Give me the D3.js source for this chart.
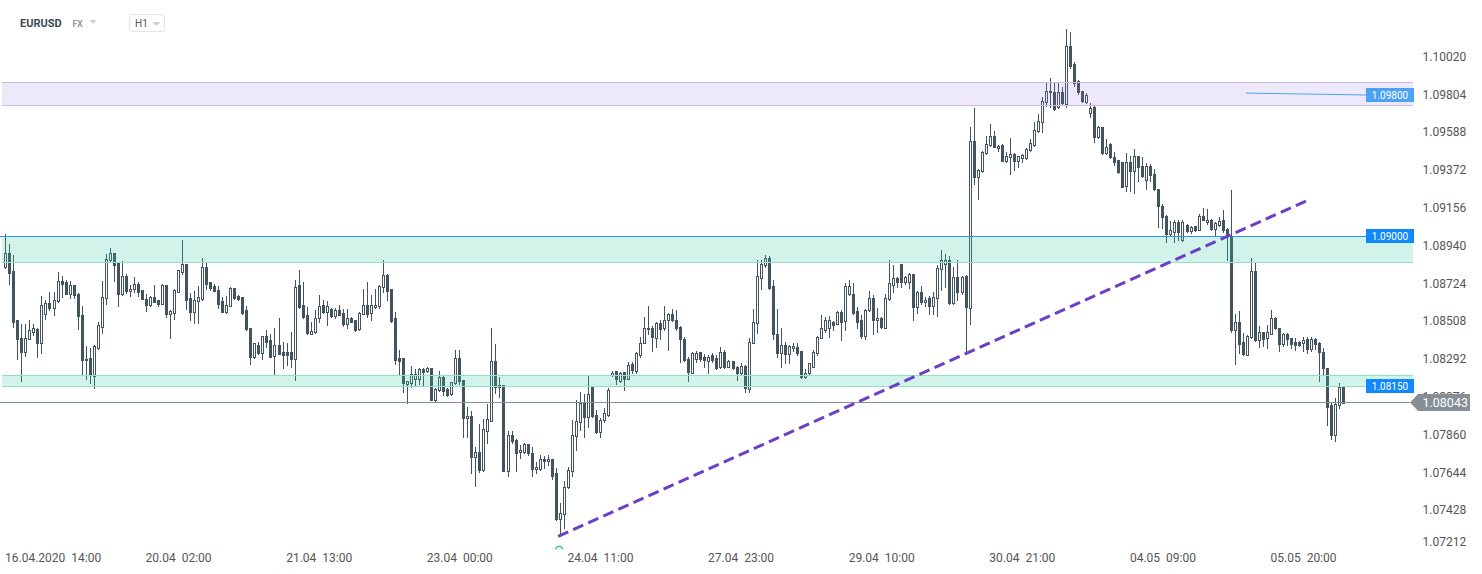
<!DOCTYPE html>
<html>
<head>
<meta charset="utf-8">
<script src="https://cdn.jsdelivr.net/npm/d3@7/dist/d3.min.js"></script>
<style>
body { margin: 0; background: #fff; overflow: hidden; }
svg { display: block; font-family: Roboto, "Noto Sans", sans-serif; }
</style>
</head>
<body>
<div id="chart"></div>
<script>
const WIDTH = 1482, HEIGHT = 574
const PLOT_LEFT = 2, PLOT_RIGHT = 1413, PLOT_BOTTOM = 548
const CANDLE_COLOR = "#44545e"

// hourly EURUSD candles, 16.04 06:00 -> 06.05 07:00
const open = [
  1.08817, 1.08899, 1.08792, 1.08513, 1.08414, 1.08332, 1.08408, 1.08446, 1.08462, 1.08384,
  1.08551, 1.08614, 1.08585, 1.08621, 1.08735, 1.08732, 1.08663, 1.08712, 1.08661, 1.08545,
  1.08283, 1.08298, 1.08194, 1.08355, 1.08475, 1.08642, 1.08859, 1.08899, 1.08842, 1.08663,
  1.08764, 1.08680, 1.08692, 1.08722, 1.08684, 1.08637, 1.08602, 1.08646, 1.08627, 1.08608,
  1.08712, 1.08551, 1.08557, 1.08674, 1.08789, 1.08832, 1.08642, 1.08561, 1.08625, 1.08637,
  1.08815, 1.08730, 1.08711, 1.08688, 1.08621, 1.08561, 1.08597, 1.08695, 1.08650, 1.08644,
  1.08570, 1.08467, 1.08304, 1.08374, 1.08323, 1.08422, 1.08399, 1.08308, 1.08374, 1.08331,
  1.08331, 1.08331, 1.08289, 1.08712, 1.08599, 1.08541, 1.08437, 1.08443, 1.08523, 1.08599,
  1.08561, 1.08576, 1.08540, 1.08570, 1.08557, 1.08494, 1.08528, 1.08513, 1.08460, 1.08551,
  1.08599, 1.08555, 1.08589, 1.08593, 1.08703, 1.08770, 1.08690, 1.08523, 1.08296, 1.08296,
  1.08148, 1.08156, 1.08175, 1.08175, 1.08234, 1.08224, 1.08239, 1.08057, 1.08114, 1.08188,
  1.08118, 1.08089, 1.08152, 1.08298, 1.08171, 1.07953, 1.07966, 1.07734, 1.07759, 1.07658,
  1.07882, 1.07939, 1.08279, 1.08143, 1.08143, 1.07649, 1.07858, 1.07829, 1.07759, 1.07759,
  1.07806, 1.07757, 1.07662, 1.07664, 1.07719, 1.07709, 1.07719, 1.07639, 1.07379, 1.07407,
  1.07559, 1.07649, 1.07852, 1.07934, 1.08038, 1.07962, 1.08139, 1.07972, 1.07877, 1.07941,
  1.07972, 1.08201, 1.08222, 1.08167, 1.08215, 1.08177, 1.08260, 1.08224, 1.08314, 1.08384,
  1.08471, 1.08466, 1.08414, 1.08500, 1.08466, 1.08513, 1.08551, 1.08517, 1.08475, 1.08408,
  1.08289, 1.08213, 1.08289, 1.08329, 1.08300, 1.08281, 1.08315, 1.08298, 1.08247, 1.08331,
  1.08247, 1.08279, 1.08247, 1.08209, 1.08253, 1.08118, 1.08384, 1.08498, 1.08756, 1.08827,
  1.08868, 1.08707, 1.08437, 1.08323, 1.08371, 1.08319, 1.08352, 1.08361, 1.08336, 1.08190,
  1.08209, 1.08247, 1.08323, 1.08414, 1.08456, 1.08471, 1.08504, 1.08494, 1.08559, 1.08509,
  1.08661, 1.08665, 1.08566, 1.08517, 1.08422, 1.08570, 1.08642, 1.08517, 1.08528, 1.08471,
  1.08635, 1.08712, 1.08756, 1.08832, 1.08731, 1.08731, 1.08775, 1.08589, 1.08674, 1.08618,
  1.08640, 1.08593, 1.08642, 1.08808, 1.08836, 1.08859, 1.08612, 1.08760, 1.08674, 1.08766,
  1.08585, 1.09539, 1.09330, 1.09364, 1.09467, 1.09516, 1.09568, 1.09497, 1.09516, 1.09425,
  1.09448, 1.09463, 1.09421, 1.09440, 1.09440, 1.09486, 1.09516, 1.09596, 1.09644, 1.09758,
  1.09815, 1.09818, 1.09733, 1.09815, 1.09748, 1.10081, 1.09976, 1.09881, 1.09824, 1.09758,
  1.09695, 1.09733, 1.09558, 1.09615, 1.09467, 1.09520, 1.09448, 1.09429, 1.09416, 1.09281,
  1.09419, 1.09368, 1.09454, 1.09397, 1.09315, 1.09397, 1.09349, 1.09264, 1.09163, 1.09108,
  1.09003, 1.09015, 1.09075, 1.08969, 1.09056, 1.09022, 1.09049, 1.09030, 1.09108, 1.09074,
  1.09083, 1.09036, 1.09060, 1.09083, 1.09037, 1.08992, 1.08456, 1.08504, 1.08390, 1.08317,
  1.08418, 1.08792, 1.08399, 1.08447, 1.08409, 1.08437, 1.08523, 1.08466, 1.08376, 1.08437,
  1.08409, 1.08390, 1.08390, 1.08384, 1.08403, 1.08346, 1.08403, 1.08384, 1.08333, 1.08241,
  1.08028, 1.07858, 1.08028, 1.08133
]
const high = [
  1.09007, 1.08946, 1.08883, 1.08513, 1.08494, 1.08490, 1.08513, 1.08494, 1.08471, 1.08650,
  1.08627, 1.08674, 1.08674, 1.08787, 1.08764, 1.08741, 1.08735, 1.08716, 1.08669, 1.08593,
  1.08365, 1.08355, 1.08369, 1.08502, 1.08735, 1.08893, 1.08927, 1.08899, 1.08846, 1.08849,
  1.08775, 1.08712, 1.08760, 1.08732, 1.08684, 1.08661, 1.08650, 1.08712, 1.08627, 1.08722,
  1.08712, 1.08570, 1.08692, 1.08802, 1.08969, 1.08836, 1.08671, 1.08680, 1.08707, 1.08870,
  1.08840, 1.08732, 1.08722, 1.08707, 1.08646, 1.08650, 1.08701, 1.08695, 1.08656, 1.08646,
  1.08593, 1.08471, 1.08384, 1.08388, 1.08422, 1.08456, 1.08437, 1.08467, 1.08528, 1.08388,
  1.08380, 1.08445, 1.08745, 1.08802, 1.08732, 1.08589, 1.08504, 1.08570, 1.08656, 1.08627,
  1.08625, 1.08585, 1.08583, 1.08599, 1.08580, 1.08580, 1.08532, 1.08513, 1.08561, 1.08693,
  1.08732, 1.08656, 1.08693, 1.08716, 1.08855, 1.08775, 1.08690, 1.08559, 1.08342, 1.08296,
  1.08165, 1.08253, 1.08236, 1.08239, 1.08238, 1.08247, 1.08239, 1.08124, 1.08220, 1.08198,
  1.08124, 1.08162, 1.08342, 1.08342, 1.08171, 1.08019, 1.07996, 1.07791, 1.07920, 1.07947,
  1.08034, 1.08469, 1.08376, 1.08190, 1.08143, 1.07882, 1.07882, 1.07833, 1.07799, 1.07810,
  1.07806, 1.07791, 1.07700, 1.07742, 1.07738, 1.07742, 1.07721, 1.07668, 1.07468, 1.07592,
  1.07677, 1.07943, 1.08057, 1.08105, 1.08091, 1.08200, 1.08139, 1.08000, 1.07953, 1.08010,
  1.08124, 1.08224, 1.08222, 1.08219, 1.08219, 1.08276, 1.08276, 1.08331, 1.08418, 1.08532,
  1.08593, 1.08479, 1.08504, 1.08517, 1.08593, 1.08555, 1.08580, 1.08574, 1.08479, 1.08418,
  1.08300, 1.08329, 1.08336, 1.08331, 1.08319, 1.08314, 1.08323, 1.08314, 1.08361, 1.08342,
  1.08285, 1.08281, 1.08253, 1.08270, 1.08257, 1.08414, 1.08578, 1.08855, 1.08855, 1.08883,
  1.08878, 1.08745, 1.08580, 1.08466, 1.08390, 1.08374, 1.08384, 1.08384, 1.08336, 1.08232,
  1.08270, 1.08342, 1.08422, 1.08541, 1.08532, 1.08536, 1.08509, 1.08566, 1.08570, 1.08726,
  1.08741, 1.08726, 1.08589, 1.08541, 1.08580, 1.08680, 1.08656, 1.08585, 1.08532, 1.08665,
  1.08855, 1.08826, 1.08760, 1.08832, 1.08764, 1.08783, 1.08779, 1.08678, 1.08709, 1.08646,
  1.08650, 1.08674, 1.08830, 1.08912, 1.08893, 1.08882, 1.08817, 1.08855, 1.08764, 1.08770,
  1.09619, 1.09725, 1.09378, 1.09482, 1.09568, 1.09634, 1.09596, 1.09516, 1.09520, 1.09473,
  1.09554, 1.09467, 1.09454, 1.09463, 1.09497, 1.09549, 1.09644, 1.09691, 1.09790, 1.09875,
  1.09900, 1.09871, 1.09866, 1.09847, 1.10176, 1.10160, 1.09986, 1.09885, 1.09824, 1.09809,
  1.09752, 1.09739, 1.09623, 1.09619, 1.09549, 1.09524, 1.09473, 1.09429, 1.09416, 1.09467,
  1.09454, 1.09492, 1.09454, 1.09444, 1.09410, 1.09406, 1.09378, 1.09264, 1.09178, 1.09112,
  1.09079, 1.09087, 1.09083, 1.09083, 1.09064, 1.09049, 1.09054, 1.09121, 1.09155, 1.09148,
  1.09091, 1.09074, 1.09102, 1.09144, 1.09041, 1.09258, 1.08551, 1.08566, 1.08441, 1.08428,
  1.08870, 1.08840, 1.08481, 1.08447, 1.08485, 1.08574, 1.08532, 1.08471, 1.08441, 1.08441,
  1.08409, 1.08409, 1.08395, 1.08418, 1.08418, 1.08418, 1.08409, 1.08390, 1.08352, 1.08241,
  1.08038, 1.08067, 1.08152, 1.08137
]
const low = [
  1.08811, 1.08722, 1.08475, 1.08289, 1.08167, 1.08308, 1.08408, 1.08427, 1.08304, 1.08327,
  1.08521, 1.08570, 1.08541, 1.08616, 1.08646, 1.08661, 1.08640, 1.08640, 1.08460, 1.08199,
  1.08175, 1.08156, 1.08123, 1.08350, 1.08441, 1.08608, 1.08846, 1.08737, 1.08595, 1.08659,
  1.08669, 1.08650, 1.08676, 1.08650, 1.08635, 1.08568, 1.08597, 1.08616, 1.08593, 1.08604,
  1.08532, 1.08412, 1.08521, 1.08673, 1.08775, 1.08578, 1.08513, 1.08498, 1.08500, 1.08627,
  1.08690, 1.08688, 1.08680, 1.08583, 1.08559, 1.08555, 1.08593, 1.08635, 1.08627, 1.08551,
  1.08456, 1.08260, 1.08298, 1.08321, 1.08289, 1.08361, 1.08300, 1.08199, 1.08319, 1.08238,
  1.08257, 1.08247, 1.08171, 1.08585, 1.08528, 1.08437, 1.08433, 1.08439, 1.08504, 1.08555,
  1.08485, 1.08532, 1.08528, 1.08541, 1.08481, 1.08469, 1.08502, 1.08450, 1.08456, 1.08547,
  1.08532, 1.08513, 1.08585, 1.08585, 1.08674, 1.08627, 1.08504, 1.08260, 1.08205, 1.08105,
  1.08038, 1.08133, 1.08143, 1.08148, 1.08137, 1.08219, 1.08057, 1.08046, 1.08110, 1.08086,
  1.08082, 1.08086, 1.08148, 1.08148, 1.07848, 1.07848, 1.07639, 1.07563, 1.07645, 1.07654,
  1.07810, 1.07935, 1.08095, 1.08076, 1.07649, 1.07620, 1.07814, 1.07649, 1.07725, 1.07753,
  1.07744, 1.07620, 1.07639, 1.07658, 1.07668, 1.07687, 1.07605, 1.07373, 1.07278, 1.07326,
  1.07554, 1.07624, 1.07772, 1.07886, 1.07848, 1.07905, 1.07962, 1.07867, 1.07848, 1.07934,
  1.07966, 1.08196, 1.08148, 1.08162, 1.08114, 1.08175, 1.08213, 1.08209, 1.08304, 1.08380,
  1.08437, 1.08336, 1.08361, 1.08408, 1.08456, 1.08342, 1.08509, 1.08456, 1.08276, 1.08281,
  1.08167, 1.08209, 1.08276, 1.08281, 1.08247, 1.08213, 1.08276, 1.08234, 1.08239, 1.08238,
  1.08243, 1.08236, 1.08171, 1.08198, 1.08101, 1.08101, 1.08380, 1.08441, 1.08693, 1.08817,
  1.08693, 1.08403, 1.08300, 1.08247, 1.08266, 1.08266, 1.08336, 1.08314, 1.08181, 1.08181,
  1.08205, 1.08243, 1.08317, 1.08409, 1.08447, 1.08418, 1.08456, 1.08490, 1.08399, 1.08456,
  1.08656, 1.08551, 1.08466, 1.08409, 1.08403, 1.08566, 1.08433, 1.08447, 1.08471, 1.08466,
  1.08627, 1.08674, 1.08703, 1.08703, 1.08722, 1.08699, 1.08517, 1.08555, 1.08608, 1.08593,
  1.08551, 1.08547, 1.08536, 1.08688, 1.08703, 1.08604, 1.08608, 1.08627, 1.08665, 1.08333,
  1.08494, 1.09292, 1.09207, 1.09359, 1.09463, 1.09511, 1.09501, 1.09482, 1.09421, 1.09416,
  1.09349, 1.09372, 1.09387, 1.09416, 1.09435, 1.09482, 1.09511, 1.09587, 1.09587, 1.09739,
  1.09729, 1.09714, 1.09725, 1.09748, 1.09729, 1.09957, 1.09853, 1.09805, 1.09758, 1.09752,
  1.09672, 1.09530, 1.09554, 1.09463, 1.09463, 1.09438, 1.09402, 1.09353, 1.09273, 1.09250,
  1.09254, 1.09239, 1.09307, 1.09330, 1.09264, 1.09307, 1.09260, 1.09045, 1.09041, 1.08960,
  1.08996, 1.08960, 1.08969, 1.08965, 1.09017, 1.09011, 1.09022, 1.09026, 1.09083, 1.09064,
  1.09030, 1.08998, 1.09054, 1.09020, 1.08855, 1.08447, 1.08262, 1.08323, 1.08314, 1.08314,
  1.08414, 1.08395, 1.08361, 1.08365, 1.08352, 1.08433, 1.08460, 1.08338, 1.08365, 1.08371,
  1.08357, 1.08342, 1.08365, 1.08338, 1.08327, 1.08336, 1.08346, 1.08167, 1.08200, 1.07915,
  1.07833, 1.07825, 1.08010, 1.08038
]
const close = [
  1.08899, 1.08785, 1.08503, 1.08408, 1.08332, 1.08414, 1.08456, 1.08466, 1.08384, 1.08602,
  1.08614, 1.08583, 1.08631, 1.08735, 1.08720, 1.08663, 1.08712, 1.08659, 1.08538, 1.08283,
  1.08294, 1.08198, 1.08365, 1.08488, 1.08648, 1.08864, 1.08899, 1.08830, 1.08663, 1.08764,
  1.08678, 1.08693, 1.08722, 1.08674, 1.08635, 1.08602, 1.08644, 1.08618, 1.08608, 1.08716,
  1.08547, 1.08564, 1.08684, 1.08798, 1.08832, 1.08627, 1.08561, 1.08631, 1.08648, 1.08815,
  1.08720, 1.08695, 1.08682, 1.08604, 1.08561, 1.08602, 1.08695, 1.08640, 1.08635, 1.08555,
  1.08460, 1.08304, 1.08380, 1.08325, 1.08420, 1.08390, 1.08304, 1.08374, 1.08321, 1.08314,
  1.08314, 1.08289, 1.08705, 1.08589, 1.08532, 1.08441, 1.08450, 1.08528, 1.08597, 1.08561,
  1.08593, 1.08538, 1.08570, 1.08545, 1.08490, 1.08528, 1.08504, 1.08456, 1.08557, 1.08599,
  1.08547, 1.08599, 1.08602, 1.08711, 1.08770, 1.08680, 1.08507, 1.08285, 1.08281, 1.08156,
  1.08165, 1.08205, 1.08205, 1.08234, 1.08219, 1.08239, 1.08057, 1.08118, 1.08188, 1.08110,
  1.08086, 1.08158, 1.08298, 1.08167, 1.07956, 1.07966, 1.07734, 1.07759, 1.07658, 1.07892,
  1.07947, 1.08279, 1.08133, 1.08133, 1.07649, 1.07858, 1.07820, 1.07753, 1.07772, 1.07806,
  1.07753, 1.07662, 1.07675, 1.07719, 1.07709, 1.07719, 1.07624, 1.07377, 1.07411, 1.07559,
  1.07658, 1.07858, 1.07937, 1.08038, 1.07962, 1.08091, 1.07968, 1.07873, 1.07943, 1.07985,
  1.08114, 1.08213, 1.08175, 1.08213, 1.08175, 1.08257, 1.08228, 1.08327, 1.08384, 1.08471,
  1.08460, 1.08418, 1.08498, 1.08462, 1.08517, 1.08551, 1.08513, 1.08471, 1.08403, 1.08285,
  1.08219, 1.08323, 1.08323, 1.08289, 1.08285, 1.08304, 1.08285, 1.08241, 1.08331, 1.08243,
  1.08279, 1.08238, 1.08213, 1.08253, 1.08124, 1.08390, 1.08504, 1.08764, 1.08836, 1.08868,
  1.08697, 1.08437, 1.08323, 1.08371, 1.08319, 1.08367, 1.08365, 1.08323, 1.08190, 1.08213,
  1.08266, 1.08332, 1.08418, 1.08466, 1.08513, 1.08517, 1.08485, 1.08559, 1.08502, 1.08709,
  1.08709, 1.08555, 1.08504, 1.08422, 1.08574, 1.08640, 1.08517, 1.08528, 1.08475, 1.08642,
  1.08726, 1.08756, 1.08731, 1.08731, 1.08760, 1.08779, 1.08589, 1.08674, 1.08618, 1.08631,
  1.08593, 1.08646, 1.08813, 1.08859, 1.08859, 1.08612, 1.08760, 1.08674, 1.08760, 1.08589,
  1.09539, 1.09330, 1.09372, 1.09473, 1.09520, 1.09568, 1.09505, 1.09511, 1.09425, 1.09454,
  1.09463, 1.09421, 1.09454, 1.09459, 1.09492, 1.09524, 1.09600, 1.09653, 1.09767, 1.09824,
  1.09824, 1.09720, 1.09815, 1.09752, 1.10081, 1.09967, 1.09871, 1.09815, 1.09767, 1.09801,
  1.09725, 1.09558, 1.09615, 1.09467, 1.09505, 1.09444, 1.09416, 1.09359, 1.09277, 1.09416,
  1.09368, 1.09454, 1.09387, 1.09340, 1.09397, 1.09345, 1.09264, 1.09163, 1.09102, 1.09007,
  1.09026, 1.09072, 1.09017, 1.09075, 1.09022, 1.09045, 1.09026, 1.09108, 1.09087, 1.09087,
  1.09036, 1.09070, 1.09079, 1.09026, 1.08992, 1.08456, 1.08504, 1.08376, 1.08319, 1.08422,
  1.08792, 1.08399, 1.08447, 1.08403, 1.08447, 1.08523, 1.08466, 1.08376, 1.08437, 1.08403,
  1.08376, 1.08371, 1.08371, 1.08399, 1.08346, 1.08403, 1.08376, 1.08333, 1.08238, 1.08019,
  1.07858, 1.08034, 1.08133, 1.08042
]

const yTicks = [1.07212, 1.07428, 1.07644, 1.07860, 1.08076, 1.08292, 1.08508,
  1.08724, 1.08940, 1.09156, 1.09372, 1.09588, 1.09804, 1.10020]
const timeTickIdx = [8, 43, 78, 113, 148, 183, 218, 253, 288, 323]
const timeLabels = ["16.04.2020  14:00", "20.04  02:00", "21.04  13:00", "23.04  00:00",
  "24.04  11:00", "27.04  23:00", "29.04  10:00", "30.04  21:00", "04.05  09:00", "05.05  20:00"]

// zones [bottom, top]
const zoneBands = [[1.09741, 1.09873], [1.08844, 1.08992], [1.08139, 1.08200]]
const zoneKinds = ["purple", "teal", "teal"]
// level tags: price where the tag sits, text shown
const tagPrices = [1.09800, 1.08992, 1.08139]
const tagTexts = ["1.09800", "1.09000", "1.08150"]
const tagColors = ["#4da2f4", "#1289fb", "#1289fb"]
const shortLevelIdx = [308.8, 338.7], shortLevelPrices = [1.09811, 1.09800]
const trendIdx = [137.6, 324.3], trendPrices = [1.07278, 1.09200]
const lastPrice = 1.08043

const N = open.length
const candles = open.map((o, i) => ({ i, o, h: high[i], l: low[i], c: close[i] }))

const svg = d3.select("#chart").append("svg")
  .attr("width", WIDTH).attr("height", HEIGHT)

const x = d3.scaleLinear().domain([0, N - 1]).range([5.3, 1343.2])
const y = d3.scaleLinear().domain([1.072114, 1.103429]).range([PLOT_BOTTOM, 0])
const crisp = v => Math.round(v) + 0.5

svg.append("clipPath").attr("id", "plot-clip")
  .append("rect").attr("x", 0).attr("y", 0).attr("width", PLOT_RIGHT + 2).attr("height", PLOT_BOTTOM + 1.5)

// candles
const cg = svg.append("g").attr("class", "candles")
cg.selectAll("line").data(candles).join("line")
  .attr("x1", d => crisp(x(d.i))).attr("x2", d => crisp(x(d.i)))
  .attr("y1", d => Math.round(y(d.h))).attr("y2", d => Math.round(y(d.l)) + 1)
  .attr("stroke", CANDLE_COLOR).attr("stroke-width", 1)
cg.selectAll("rect").data(candles).join("rect")
  .attr("x", d => Math.round(x(d.i)) - 0.5)
  .attr("width", 2)
  .attr("y", d => crisp(y(Math.max(d.o, d.c))))
  .attr("height", d => Math.max(1, Math.round(y(Math.min(d.o, d.c))) - Math.round(y(Math.max(d.o, d.c)))))
  .attr("fill", d => d.c >= d.o ? "#fff" : CANDLE_COLOR)
  .attr("stroke", CANDLE_COLOR).attr("stroke-width", 1)

// zones
const zoneFill = { purple: "rgba(140,110,210,0.15)", teal: "rgba(40,200,150,0.21)" }
const zoneEdge = { purple: "#c9bae9", teal: "#92e0c7" }
const zg = svg.append("g").attr("class", "zones")
zoneBands.forEach((band, k) => {
  const top = crisp(y(band[1])), bot = crisp(y(band[0]))
  zg.append("rect").attr("x", PLOT_LEFT).attr("width", PLOT_RIGHT - PLOT_LEFT)
    .attr("y", top).attr("height", bot - top).attr("fill", zoneFill[zoneKinds[k]])
  ;[top, bot].forEach(v => zg.append("line")
    .attr("x1", PLOT_LEFT).attr("x2", PLOT_RIGHT).attr("y1", v).attr("y2", v)
    .attr("stroke", zoneEdge[zoneKinds[k]]).attr("stroke-width", 1))
})

// 1.09000 level line across the chart
svg.append("line").attr("x1", 0).attr("x2", 1366)
  .attr("y1", crisp(y(tagPrices[1]))).attr("y2", crisp(y(tagPrices[1])))
  .attr("stroke", "#2a93f0").attr("stroke-width", 1.2)

// short 1.09800 line
svg.append("path")
  .datum(shortLevelIdx.map((d, k) => [d, shortLevelPrices[k]]))
  .attr("d", d3.line().x(d => x(d[0])).y(d => y(d[1])))
  .attr("fill", "none").attr("stroke", "#4aa3f2").attr("stroke-width", 1)

// last price line
svg.append("line").attr("x1", 0).attr("x2", 1410)
  .attr("y1", crisp(y(lastPrice))).attr("y2", crisp(y(lastPrice)))
  .attr("stroke", "#87919a").attr("stroke-width", 1)

// trend line
svg.append("path")
  .datum(trendIdx.map((d, k) => [d, trendPrices[k]]))
  .attr("d", d3.line().x(d => x(d[0])).y(d => y(d[1])))
  .attr("fill", "none").attr("stroke", "#6b3fc6").attr("stroke-width", 3)
  .attr("stroke-dasharray", "11,5.5")
svg.append("circle").attr("clip-path", "url(#plot-clip)")
  .attr("cx", x(trendIdx[0]) + 1).attr("cy", y(trendPrices[0]) + 13.5).attr("r", 3.5)
  .attr("fill", "#fff").attr("stroke", "#27c08f").attr("stroke-width", 1.4)

// level tags
const tg = svg.append("g").attr("class", "tags")
tagPrices.forEach((p, k) => {
  const cy = y(p)
  tg.append("rect").attr("x", 1366).attr("y", Math.round(cy - 7)).attr("width", 48).attr("height", 14)
    .attr("fill", tagColors[k])
  tg.append("text").attr("x", 1390).attr("y", Math.round(cy - 7) + 7).attr("dy", "0.35em")
    .attr("text-anchor", "middle").attr("font-size", 10).attr("fill", "#fff")
    .text(tagTexts[k])
})

// y axis
const yAxis = svg.append("g").attr("transform", `translate(1420,0)`)
  .call(d3.axisRight(y).tickValues(yTicks).tickSize(0).tickPadding(2.5).tickFormat(d3.format(".5f")))
yAxis.select(".domain").remove()
yAxis.selectAll("text").attr("font-size", 12).attr("fill", "#555")
  .attr("font-family", "Roboto, sans-serif")
  .filter(d => d === yTicks[0]).attr("transform", "translate(0,-6)")

// x axis
const xAxis = svg.append("g").attr("transform", `translate(0,${PLOT_BOTTOM})`)
  .call(d3.axisBottom(x).tickValues(timeTickIdx).tickSize(0).tickPadding(5.5)
    .tickFormat((d, k) => timeLabels[k]))
xAxis.select(".domain").remove()
xAxis.selectAll("text").attr("font-size", 12).attr("fill", "#555")
  .attr("font-family", "Roboto, sans-serif").style("white-space", "pre")
xAxis.selectAll("text").each(function () {
  const b = this.getBBox()
  const t = d3.select(this.parentNode).attr("transform")
  const tx = +/translate\(([-\d.]+)/.exec(t)[1]
  if (tx + b.x < 5) d3.select(this).attr("x", 5 - (tx + b.x))
})

// last price tag
const ly = Math.round(y(lastPrice))
svg.append("path")
  .attr("d", `M1410,${ly + 0.5} L1418,${ly - 8} L1470,${ly - 8} L1470,${ly + 9} L1418,${ly + 9} Z`)
  .attr("fill", "#868f95")
svg.append("text").attr("x", 1422.5).attr("y", ly + 0.5).attr("dy", "0.35em")
  .attr("font-size", 12.5).attr("fill", "#fff").text(d3.format(".5f")(lastPrice))

// header
const hd = svg.append("g").attr("class", "header")
hd.append("text").attr("x", 20).attr("y", 27).attr("font-size", 11).attr("font-weight", 700)
  .attr("fill", "#3d4a53").text("EURUSD")
hd.append("text").attr("x", 72.5).attr("y", 27).attr("font-size", 8.5).attr("font-weight", 700)
  .attr("fill", "#8a9aa6").text("FX")
hd.append("path").attr("d", "M89.5,20 L96.5,20 L93,23.5 Z").attr("fill", "#c3cbd1")
hd.append("rect").attr("x", 129.5).attr("y", 14.5).attr("width", 35).attr("height", 17).attr("rx", 2.5)
  .attr("fill", "#fff").attr("stroke", "#e3e6e8")
hd.append("text").attr("x", 135).attr("y", 27.2).attr("font-size", 10).attr("fill", "#555").text("H1")
hd.append("path").attr("d", "M152.5,22.3 L160.5,22.3 L156.5,25.5 Z").attr("fill", "#c3c8cc")
</script>
</body>
</html>
